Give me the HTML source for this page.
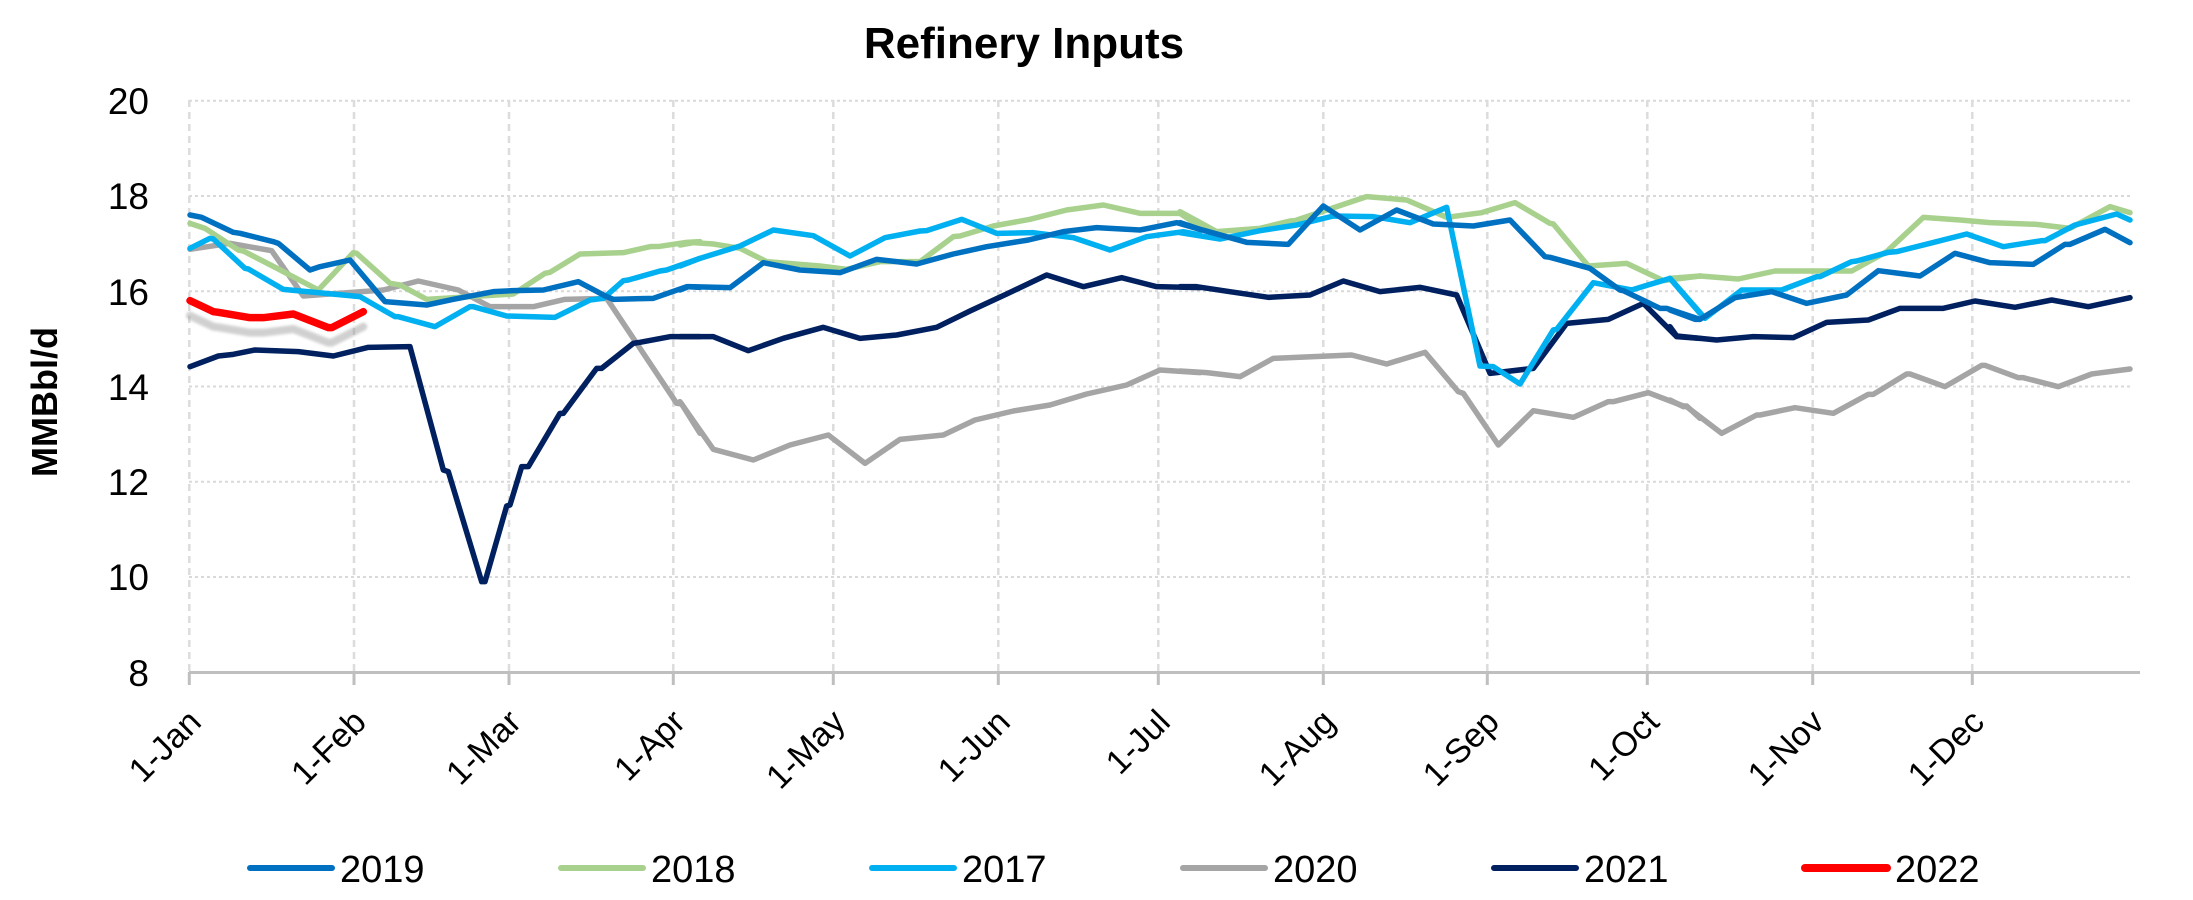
<!DOCTYPE html>
<html><head><meta charset="utf-8"><style>
html,body{margin:0;padding:0;background:#fff;}
svg{display:block;}
text{font-family:"Liberation Sans",sans-serif;}
polyline{fill:none;stroke-linejoin:round;stroke-linecap:round;vector-effect:non-scaling-stroke;stroke-width:5.5;}
</style></head><body>
<svg width="2193" height="900" viewBox="0 0 2193 900" xmlns="http://www.w3.org/2000/svg">
<defs><filter id="b" x="-20%" y="-200%" width="140%" height="500%"><feGaussianBlur stdDeviation="4"/></filter></defs>
<rect width="2193" height="900" fill="#fff"/>
<text x="1024" y="58" text-anchor="middle" font-size="44" font-weight="bold">Refinery Inputs</text>
<text transform="translate(57,402) rotate(-90)" text-anchor="middle" font-size="36" font-weight="bold">MMBbl/d</text>
<g stroke="#d9d9d9" stroke-width="2" stroke-dasharray="3,3">
<line x1="189" x2="2130" y1="100.7" y2="100.7"/><line x1="189" x2="2130" y1="196" y2="196"/><line x1="189" x2="2130" y1="291.3" y2="291.3"/><line x1="189" x2="2130" y1="386.5" y2="386.5"/><line x1="189" x2="2130" y1="481.8" y2="481.8"/><line x1="189" x2="2130" y1="577" y2="577"/>
</g>
<g stroke="#dcdcdc" stroke-width="2.5" stroke-dasharray="7,5">
<line x1="189.3" x2="189.3" y1="100" y2="672"/><line x1="354" x2="354" y1="100" y2="672"/><line x1="509" x2="509" y1="100" y2="672"/><line x1="673.3" x2="673.3" y1="100" y2="672"/><line x1="833.3" x2="833.3" y1="100" y2="672"/><line x1="998.3" x2="998.3" y1="100" y2="672"/><line x1="1158.3" x2="1158.3" y1="100" y2="672"/><line x1="1323.3" x2="1323.3" y1="100" y2="672"/><line x1="1487.3" x2="1487.3" y1="100" y2="672"/><line x1="1647.3" x2="1647.3" y1="100" y2="672"/><line x1="1812.7" x2="1812.7" y1="100" y2="672"/><line x1="1972.3" x2="1972.3" y1="100" y2="672"/>
</g>
<line x1="189" x2="2140" y1="672.5" y2="672.5" stroke="#bfbfbf" stroke-width="3"/>
<g stroke="#bfbfbf" stroke-width="3">
<line x1="189.3" x2="189.3" y1="672" y2="685"/><line x1="354" x2="354" y1="672" y2="685"/><line x1="509" x2="509" y1="672" y2="685"/><line x1="673.3" x2="673.3" y1="672" y2="685"/><line x1="833.3" x2="833.3" y1="672" y2="685"/><line x1="998.3" x2="998.3" y1="672" y2="685"/><line x1="1158.3" x2="1158.3" y1="672" y2="685"/><line x1="1323.3" x2="1323.3" y1="672" y2="685"/><line x1="1487.3" x2="1487.3" y1="672" y2="685"/><line x1="1647.3" x2="1647.3" y1="672" y2="685"/><line x1="1812.7" x2="1812.7" y1="672" y2="685"/><line x1="1972.3" x2="1972.3" y1="672" y2="685"/>
</g>
<g font-size="37" text-anchor="end">
<text x="149" y="114">20</text><text x="149" y="209">18</text><text x="149" y="305">16</text><text x="149" y="400">14</text><text x="149" y="495">12</text><text x="149" y="590">10</text><text x="149" y="686">8</text>
</g>
<g font-size="34" text-anchor="end">
<text transform="translate(203,724) rotate(-45)">1-Jan</text>
<text transform="translate(368,724) rotate(-45)">1-Feb</text>
<text transform="translate(523,724) rotate(-45)">1-Mar</text>
<text transform="translate(687,724) rotate(-45)">1-Apr</text>
<text transform="translate(847,724) rotate(-45)">1-May</text>
<text transform="translate(1012,724) rotate(-45)">1-Jun</text>
<text transform="translate(1172,724) rotate(-45)">1-Jul</text>
<text transform="translate(1337,724) rotate(-45)">1-Aug</text>
<text transform="translate(1501,724) rotate(-45)">1-Sep</text>
<text transform="translate(1661,724) rotate(-45)">1-Oct</text>
<text transform="translate(1826,724) rotate(-45)">1-Nov</text>
<text transform="translate(1986,724) rotate(-45)">1-Dec</text>
</g>

<g transform="translate(180,90) scale(0.333333)">
<polyline stroke="#A5A5A5" points="30,478 150,460 275,482 370,618 610,600 715,573 835,600 930,650 1060,650 1155,628 1280,625 1490,940 1505,942 1560,1030"/>
<polyline stroke="#002060" points="30,830 115,798 160,793 225,780 355,785 460,798 565,772 690,770 790,1140 805,1145 905,1475 915,1475 980,1248 990,1245 1025,1130 1045,1130 1140,970 1150,970 1250,835 1265,835 1360,760 1380,757 1470,740 1560,740"/>
<polyline stroke="#A9D18E" points="30,400 75,415 175,480 190,483 295,537 415,600 520,488 530,490 630,580 660,585 740,628 1000,612 1095,550 1110,547 1200,492 1330,488 1410,470 1440,469 1520,457 1560,455"/>
<polyline stroke="#00B0F0" points="30,475 90,445 100,447 195,535 205,537 310,598 330,600 540,620 645,680 655,680 765,710 870,650 880,650 980,678 1125,682 1230,630 1270,625 1330,572 1345,570 1440,543 1460,540 1560,505"/>
<polyline stroke="#0070C0" points="30,375 65,382 160,427 180,430 280,455 295,460 390,540 420,530 510,510 615,635 740,645 820,628 940,605 1000,602 1090,600 1195,575 1280,620 1300,628 1420,625 1520,590 1560,592"/>
<polyline stroke="#999" opacity="0.45" filter="url(#b)" style="stroke-width:8" points="30,677 100,710 115,712 210,728 250,728 340,717 445,758 455,758 550,710"/>
<polyline stroke="#FF0000" style="stroke-width:7.5" points="30,632 100,665 115,667 210,683 250,683 340,672 445,713 455,713 550,665"/>
</g>

<g transform="translate(680,90) scale(0.333333)">
<polyline stroke="#A5A5A5" points="0,935 100,1078 220,1110 330,1065 445,1035 555,1120 660,1048 790,1035 885,990 1000,963 1110,945 1220,912 1340,885 1440,840 1560,848"/>
<polyline stroke="#002060" points="0,740 100,740 205,782 310,745 430,712 540,745 650,735 770,712 870,663 980,612 1100,555 1210,590 1325,563 1430,590 1560,593"/>
<polyline stroke="#A9D18E" points="0,465 40,458 100,462 180,475 260,515 420,528 500,538 600,515 720,515 820,440 840,438 940,408 1050,388 1160,360 1270,345 1380,370 1500,370 1560,410"/>
<polyline stroke="#00B0F0" points="0,528 60,505 180,468 280,420 400,437 510,498 615,443 720,423 740,422 845,388 950,430 1060,428 1180,443 1290,480 1400,440 1510,425 1560,435"/>
<polyline stroke="#0070C0" points="0,600 25,590 150,593 250,518 360,540 480,548 590,508 710,522 820,492 920,470 1045,450 1150,425 1250,413 1380,420 1490,398 1560,418"/>
</g>

<g transform="translate(1180,90) scale(0.333333)">
<polyline stroke="#A5A5A5" points="0,843 80,848 180,860 280,805 515,795 620,822 735,787 835,905 850,910 955,1065 1060,962 1180,982 1285,935 1300,935 1405,908 1510,948 1520,948 1560,985"/>
<polyline stroke="#002060" points="0,590 50,590 150,605 265,622 390,615 490,573 600,605 720,592 830,615 930,850 1060,835 1160,700 1285,688 1390,640 1490,740 1560,745"/>
<polyline stroke="#A9D18E" points="0,365 50,392 110,425 240,415 330,393 345,392 560,320 680,330 800,382 905,368 1005,338 1110,400 1120,402 1225,528 1340,520 1450,572 1560,558"/>
<polyline stroke="#00B0F0" points="0,428 120,447 240,422 350,405 460,378 580,380 690,398 800,352 900,828 940,830 1020,882 1120,720 1130,718 1240,578 1355,600 1470,565 1560,670"/>
<polyline stroke="#0070C0" points="0,398 60,418 200,457 325,463 430,348 540,420 650,360 760,402 880,408 990,390 1095,500 1110,502 1230,535 1320,600 1330,602 1440,655 1460,655 1560,688"/>
</g>

<g transform="translate(1670,90) scale(0.333333)">
<polyline stroke="#A5A5A5" points="0,930 40,950 50,950 155,1030 260,975 270,975 375,953 490,970 595,913 610,913 710,852 720,852 825,890 935,826 945,826 1045,863 1060,863 1165,890 1265,852 1280,850 1380,837"/>
<polyline stroke="#002060" points="0,710 20,738 140,750 250,740 370,743 470,697 595,690 690,655 820,655 915,633 1035,652 1145,630 1255,650 1380,623"/>
<polyline stroke="#A9D18E" points="0,565 90,558 205,567 315,543 545,543 650,485 760,382 870,390 960,398 1100,403 1200,415 1320,350 1380,368"/>
<polyline stroke="#00B0F0" points="0,565 105,685 215,600 335,600 440,560 450,560 545,515 560,513 655,487 680,485 780,460 890,432 1000,470 1115,452 1125,452 1215,405 1340,372 1380,390"/>
<polyline stroke="#0070C0" points="0,660 75,688 90,688 195,623 305,605 410,640 530,615 625,542 750,558 855,490 960,518 1090,523 1185,463 1200,463 1305,418 1380,458"/>
</g>

<g stroke-width="6" stroke-linecap="round">
<line x1="250" x2="332" y1="868" y2="868" stroke="#0070C0"/>
<line x1="561" x2="643" y1="868" y2="868" stroke="#A9D18E"/>
<line x1="872" x2="954" y1="868" y2="868" stroke="#00B0F0"/>
<line x1="1183" x2="1265" y1="868" y2="868" stroke="#A5A5A5"/>
<line x1="1494" x2="1576" y1="868" y2="868" stroke="#002060"/>
<line x1="1805" x2="1887" y1="868" y2="868" stroke="#FF0000" stroke-width="8"/>
</g>
<g font-size="38">
<text x="340" y="882">2019</text><text x="651" y="882">2018</text><text x="962" y="882">2017</text><text x="1273" y="882">2020</text><text x="1584" y="882">2021</text><text x="1895" y="882">2022</text>
</g>
</svg>
</body></html>
